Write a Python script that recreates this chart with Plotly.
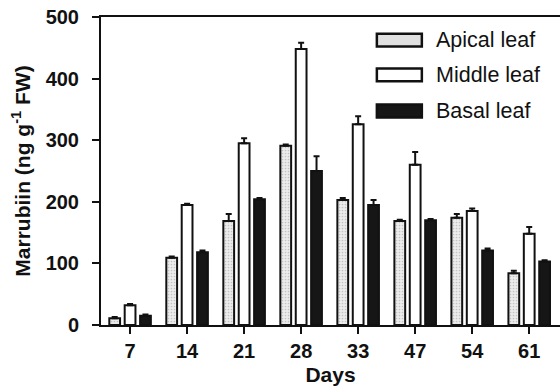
import plotly.graph_objects as go

days = ["7", "14", "21", "28", "33", "47", "54", "61"]
apical = [11, 109, 169, 291, 203, 169, 174, 84]
apical_err = [2, 2, 11, 2, 3, 2, 6, 4]
middle = [32, 195, 295, 448, 326, 260, 185, 148]
middle_err = [2, 2, 8, 10, 13, 21, 4, 11]
basal = [15, 118, 204, 250, 195, 170, 121, 103]
basal_err = [2, 3, 2, 24, 8, 2, 3, 2]

FONT = "Liberation Sans, Arial, sans-serif"

fig = go.Figure()

def err(a):
    return dict(type="data", array=a, arrayminus=[0] * len(a), symmetric=False,
                color="#111", thickness=2, width=3)

fig.add_trace(go.Bar(x=days, y=apical, name="Apical leaf", error_y=err(apical_err),
                     marker=dict(color="#e6e6e6", line=dict(color="#111", width=2),
                                 pattern=dict(shape=".", fgcolor="#9a9a9a", bgcolor="#ececec",
                                              size=3, solidity=0.25))))
fig.add_trace(go.Bar(x=days, y=middle, name="Middle leaf", error_y=err(middle_err),
                     marker=dict(color="white", line=dict(color="#111", width=2))))
fig.add_trace(go.Bar(x=days, y=basal, name="Basal leaf", error_y=err(basal_err),
                     marker=dict(color="#161616", line=dict(color="#111", width=2))))

# custom legend (wide swatches like the original)
legend_items = [("Apical leaf", "#e0e0e0", 0.925), ("Middle leaf", "white", 0.812), ("Basal leaf", "#161616", 0.695)]
shapes = []
annotations = []
for name, fill, yc in legend_items:
    shapes.append(dict(type="rect", xref="paper", yref="paper", x0=0.601, x1=0.699,
                       y0=yc - 0.021, y1=yc + 0.021, fillcolor=fill,
                       line=dict(color="#111", width=2.5)))
    annotations.append(dict(text=name, xref="paper", yref="paper", x=0.7255, y=yc,
                            xanchor="left", yanchor="middle", showarrow=False,
                            font=dict(family=FONT, size=21.5, color="#111")))

fig.update_layout(
    width=560, height=392,
    margin=dict(l=101, r=0, t=17, b=67),
    paper_bgcolor="white", plot_bgcolor="white",
    barmode="group", bargap=0.19, bargroupgap=0.3,
    showlegend=False,
    shapes=shapes, annotations=annotations,
    font=dict(family=FONT, color="#111"),
    xaxis=dict(type="category", range=[-0.51, 7.54], showline=True, linecolor="#111",
               linewidth=2, mirror=True, ticks="outside", ticklen=7, tickwidth=2,
               tickcolor="#111", showgrid=False, zeroline=False, ticklabelstandoff=0,
               tickfont=dict(family=FONT, size=20, color="#111", weight="bold"),
               title=dict(text="<b>Days</b>", font=dict(family=FONT, size=21), standoff=6)),
    yaxis=dict(range=[0, 500], tickvals=[0, 100, 200, 300, 400, 500], showline=True,
               linecolor="#111", linewidth=2, ticks="outside", ticklen=7, tickwidth=2,
               tickcolor="#111", showgrid=False, zeroline=False, ticklabelstandoff=9,
               tickfont=dict(family=FONT, size=20, color="#111", weight="bold"),
               title=dict(text="<b>Marrubiin (ng g<sup>-1</sup> FW)</b>",
                          font=dict(family=FONT, size=21), standoff=9)),
)

# remove the default 8px page margin so the figure sits at the window origin
fig.write_html("out.html", config={"displayModeBar": False},
               post_script="document.body.style.margin='0';document.body.style.overflow='hidden';")
